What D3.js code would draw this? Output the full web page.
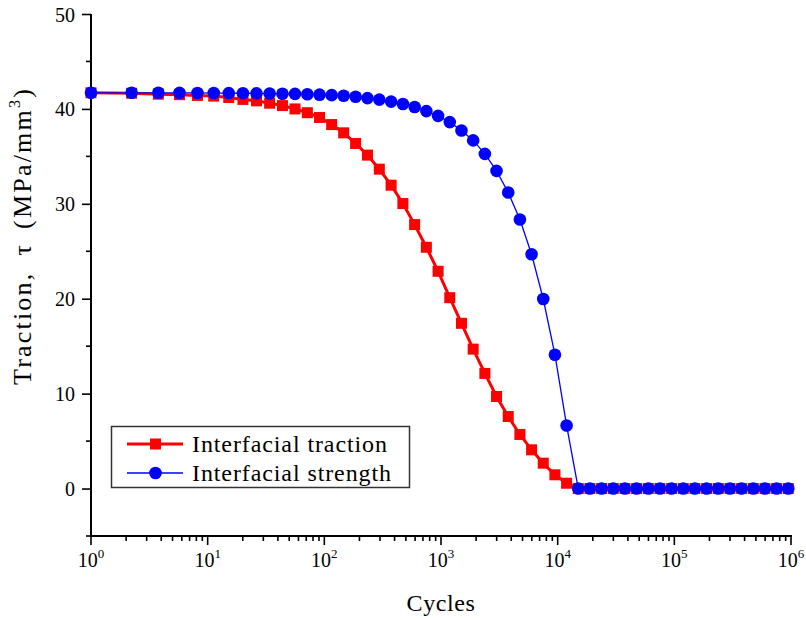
<!DOCTYPE html>
<html><head><meta charset="utf-8">
<script src="https://cdn.jsdelivr.net/npm/d3@7"></script>
<style>body{margin:0;background:#fff}svg{display:block}text{font-family:"Liberation Serif","Times New Roman",serif;fill:#000}</style>
</head><body><svg id="c" width="806" height="620"></svg>
<script>
const cycles = [1, 2.23, 3.78, 5.73, 8.18, 11.27, 15.16, 20.06, 26.22, 33.98, 43.75, 56.05, 71.53, 91.03, 115.6, 146.5, 185.4, 234.3, 296, 373.6, 471.3, 594.2, 749.1, 944, 1189, 1498, 1887, 2377, 2993, 3769, 4746, 5976, 7524, 9473, 11927, 15017, 18906, 23801, 29966, 37727, 47496, 59794, 75279, 94773, 119312, 150206, 189098, 238062, 299702, 377303, 474996, 597987, 752819, 947745];
const traction = [41.7, 41.65, 41.55, 41.5, 41.42, 41.35, 41.2, 41.0, 40.85, 40.6, 40.35, 40.0, 39.6, 39.1, 38.35, 37.48, 36.36, 35.13, 33.65, 31.96, 30.03, 27.81, 25.42, 22.89, 20.11, 17.41, 14.69, 12.13, 9.70, 7.59, 5.70, 4.08, 2.67, 1.45, 0.56, 0, 0, 0, 0, 0, 0, 0, 0, 0, 0, 0, 0, 0, 0, 0, 0, 0, 0, 0];
const strength = [41.7, 41.7, 41.7, 41.69, 41.68, 41.67, 41.66, 41.65, 41.64, 41.62, 41.6, 41.58, 41.55, 41.5, 41.45, 41.38, 41.28, 41.14, 40.98, 40.77, 40.52, 40.2, 39.77, 39.27, 38.61, 37.73, 36.68, 35.26, 33.47, 31.19, 28.34, 24.68, 19.97, 14.10, 6.65, 0, 0, 0, 0, 0, 0, 0, 0, 0, 0, 0, 0, 0, 0, 0, 0, 0, 0, 0];
const yTicks = [0, 10, 20, 30, 40, 50];
const xExponents = [0, 1, 2, 3, 4, 5, 6];
const seriesNames = ["Interfacial traction", "Interfacial strength"];

const svg = d3.select("#c");
const x = d3.scaleLog().domain([1, 1e6]).range([91, 791]);
const y = d3.scaleLinear().domain([-5, 50]).range([536, 14]);

// axes
const yAxis = d3.axisLeft(y).tickValues(yTicks).tickSize(9).tickPadding(7).tickFormat(d3.format("d"));
const gy = svg.append("g").attr("transform", "translate(91,0)").call(yAxis);
gy.select(".domain").remove();
gy.selectAll(".tick line").attr("stroke", "#000").attr("stroke-width", 1.6);
gy.selectAll(".tick text").style("font-size", "20px").attr("dy", "0.35em");
const minorY = d3.range(-5, 50, 10);
svg.append("g").selectAll("line").data(minorY).join("line")
  .attr("x1", 86).attr("x2", 91).attr("y1", d => y(d)).attr("y2", d => y(d))
  .attr("stroke", "#000").attr("stroke-width", 1.6);

const minorX = [];
for (let e = 0; e < 6; e++) for (let m = 2; m <= 9; m++) minorX.push(m * Math.pow(10, e));
svg.append("g").selectAll("line").data(minorX).join("line")
  .attr("x1", d => x(d)).attr("x2", d => x(d)).attr("y1", 536).attr("y2", 541)
  .attr("stroke", "#000").attr("stroke-width", 1.6);
svg.append("g").selectAll("line").data(xExponents).join("line")
  .attr("x1", d => x(Math.pow(10, d))).attr("x2", d => x(Math.pow(10, d))).attr("y1", 536).attr("y2", 545)
  .attr("stroke", "#000").attr("stroke-width", 1.6);
const xl = svg.append("g").selectAll("text").data(xExponents).join("text")
  .attr("x", d => x(Math.pow(10, d))).attr("y", 567).attr("text-anchor", "middle").style("font-size", "20px");
xl.append("tspan").text("10");
xl.append("tspan").attr("dy", -9).style("font-size", "13px").text(d => d);

svg.append("line").attr("x1", 91).attr("x2", 91).attr("y1", 14).attr("y2", 537).attr("stroke", "#000").attr("stroke-width", 2);
svg.append("line").attr("x1", 90).attr("x2", 792).attr("y1", 536).attr("y2", 536).attr("stroke", "#000").attr("stroke-width", 2);

// labels
svg.append("text").attr("x", 441).attr("y", 611).attr("text-anchor", "middle").style("font-size", "24px").style("letter-spacing", "0.6px").text("Cycles");
const yl = svg.append("text").attr("transform", "translate(31,236) rotate(-90)").attr("text-anchor", "middle")
  .style("font-size", "26px").style("letter-spacing", "2.2px");
yl.append("tspan").text("Traction,");
yl.append("tspan").attr("dx", 16).text("\u03c4");
yl.append("tspan").attr("dx", 14).text("(MPa/mm");
yl.append("tspan").attr("dy", -11).style("font-size", "16px").text("3");
yl.append("tspan").attr("dy", 11).text(")");

// series
const line = d3.line().x(d => x(d[0])).y(d => y(d[1]));
const tData = cycles.map((c, i) => [c, traction[i]]);
const sData = cycles.map((c, i) => [c, strength[i]]);
svg.append("path").datum(tData).attr("d", line).attr("fill", "none").attr("stroke", "#ff0000").attr("stroke-width", 3);
svg.append("g").selectAll("rect").data(tData).join("rect")
  .attr("x", d => x(d[0]) - 5.5).attr("y", d => y(d[1]) - 5.5).attr("width", 11).attr("height", 11).attr("fill", "#ff0000");
svg.append("path").datum(sData).attr("d", line).attr("fill", "none").attr("stroke", "#0000ff").attr("stroke-width", 1.3);
svg.append("g").selectAll("circle").data(sData).join("circle")
  .attr("cx", d => x(d[0])).attr("cy", d => y(d[1])).attr("r", 6.3).attr("fill", "#0000ff");

// legend
const lg = svg.append("g");
lg.append("rect").attr("x", 111.5).attr("y", 426.5).attr("width", 298).attr("height", 61).attr("fill", "#fff").attr("stroke", "#333").attr("stroke-width", 1.5);
lg.append("line").attr("x1", 127).attr("x2", 183).attr("y1", 444).attr("y2", 444).attr("stroke", "#ff0000").attr("stroke-width", 3);
lg.append("rect").attr("x", 150).attr("y", 438.5).attr("width", 11).attr("height", 11).attr("fill", "#ff0000");
lg.append("line").attr("x1", 127).attr("x2", 183).attr("y1", 473).attr("y2", 473).attr("stroke", "#0000ff").attr("stroke-width", 1.3);
lg.append("circle").attr("cx", 155.5).attr("cy", 473).attr("r", 6.3).attr("fill", "#0000ff");
lg.append("text").attr("x", 192).attr("y", 452).style("font-size", "24px").style("letter-spacing", "0.9px").text(seriesNames[0]);
lg.append("text").attr("x", 192).attr("y", 481).style("font-size", "24px").style("letter-spacing", "0.9px").text(seriesNames[1]);
</script></body></html>
